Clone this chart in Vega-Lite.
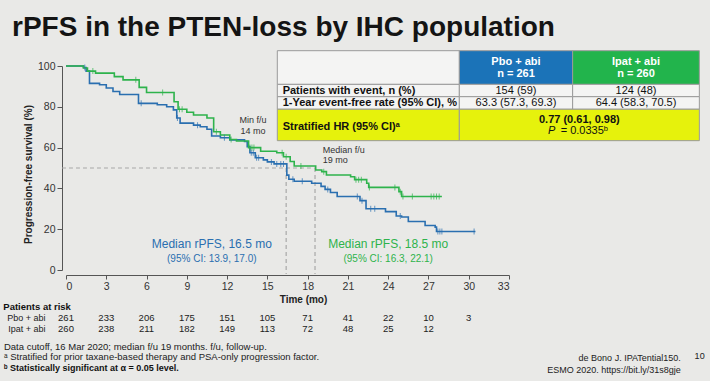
{
  "$schema": "https://vega.github.io/schema/vega-lite/v6.json",
  "width": 443,
  "height": 204,
  "autosize": {"type": "none"},
  "padding": {"left": 66, "top": 66, "right": 201, "bottom": 111},
  "background": "#e9e9e7",
  "title": {
    "text": "rPFS in the PTEN-loss by IHC population",
    "anchor": "start",
    "frame": "group",
    "font": "Liberation Sans, Arial, sans-serif",
    "fontSize": 28,
    "fontWeight": "bold",
    "color": "#141414",
    "dx": -54,
    "offset": 8
  },
  "config": {
    "view": {"stroke": null},
    "font": "Liberation Sans, Arial, sans-serif",
    "text": {"font": "Liberation Sans, Arial, sans-serif"}
  },
  "encoding": {
    "x": {
      "field": "t",
      "type": "quantitative",
      "scale": {"domain": [0, 33], "nice": false, "zero": false},
      "axis": {
        "title": "Time (mo)",
        "values": [0, 3, 6, 9, 12, 15, 18, 21, 24, 27, 30, 33],
        "offset": 5,
        "grid": false,
        "tickSize": 4,
        "labelPadding": 2,
        "labelFontSize": 10.5,
        "labelColor": "#333",
        "labelFont": "Liberation Sans, Arial, sans-serif",
        "domainColor": "#555",
        "tickColor": "#555",
        "titleFont": "Liberation Sans, Arial, sans-serif",
        "titleFontSize": 10,
        "titleFontWeight": "bold",
        "titleColor": "#222",
        "titleX": 237,
        "titlePadding": 3
      }
    },
    "y": {
      "field": "p",
      "type": "quantitative",
      "scale": {"domain": [0, 100], "nice": false, "zero": false},
      "axis": {
        "title": "Progression-free survival (%)",
        "values": [0, 20, 40, 60, 80, 100],
        "offset": 4,
        "grid": false,
        "tickSize": 5,
        "labelPadding": 2,
        "labelFontSize": 10.5,
        "labelColor": "#333",
        "labelFont": "Liberation Sans, Arial, sans-serif",
        "domainColor": "#555",
        "tickColor": "#555",
        "titleFont": "Liberation Sans, Arial, sans-serif",
        "titleFontSize": 10,
        "titleFontWeight": "bold",
        "titleColor": "#222",
        "titleY": 108
      }
    }
  },
  "layer": [
    {
      "data": {"values": [
        {"t": 15.74, "t2": 29.30, "p": 107.5, "p2": 91.0, "cell": "blank"},
        {"t": 29.30, "t2": 37.74, "p": 107.5, "p2": 91.0, "cell": "blue"},
        {"t": 37.74, "t2": 47.18, "p": 107.5, "p2": 91.0, "cell": "green"},
        {"t": 15.74, "t2": 29.30, "p": 91.0, "p2": 84.95, "cell": "blank"},
        {"t": 29.30, "t2": 37.74, "p": 91.0, "p2": 84.95, "cell": "blank"},
        {"t": 37.74, "t2": 47.18, "p": 91.0, "p2": 84.95, "cell": "blank"},
        {"t": 15.74, "t2": 29.30, "p": 84.95, "p2": 78.8, "cell": "blank"},
        {"t": 29.30, "t2": 37.74, "p": 84.95, "p2": 78.8, "cell": "blank"},
        {"t": 37.74, "t2": 47.18, "p": 84.95, "p2": 78.8, "cell": "blank"},
        {"t": 15.74, "t2": 29.30, "p": 78.8, "p2": 63.4, "cell": "yellow"},
        {"t": 29.30, "t2": 47.18, "p": 78.8, "p2": 63.4, "cell": "yellow"}
      ]},
      "mark": {"type": "rect", "stroke": "#9a9a9a", "strokeWidth": 1},
      "encoding": {
        "x2": {"field": "t2"},
        "y2": {"field": "p2"},
        "fill": {
          "field": "cell",
          "type": "nominal",
          "scale": {"domain": ["blank", "blue", "green", "yellow"], "range": ["#f4f4f3", "#1b73b8", "#22b44c", "#e6f20c"]},
          "legend": null
        }
      }
    },
    {
      "data": {"values": [
        {"label": "Pbo + abi", "t": 33.52, "p": 102.1},
        {"label": "n = 261", "t": 33.52, "p": 95.9},
        {"label": "Ipat + abi", "t": 42.46, "p": 102.1},
        {"label": "n = 260", "t": 42.46, "p": 95.9}
      ]},
      "mark": {"type": "text", "fontSize": 11, "fontWeight": "bold", "color": "#ffffff", "align": "center"},
      "encoding": {"text": {"field": "label"}}
    },
    {
      "data": {"values": [
        {"label": "Patients with event, n (%)", "t": 16.14, "p": 87.9},
        {"label": "1-Year event-free rate (95% CI), %", "t": 16.14, "p": 81.7},
        {"label": "Stratified HR (95% CI)ᵃ", "t": 16.14, "p": 70.2}
      ]},
      "mark": {"type": "text", "fontSize": 11, "fontWeight": "bold", "color": "#111", "align": "left"},
      "encoding": {"text": {"field": "label"}}
    },
    {
      "data": {"values": [
        {"label": "154 (59)", "t": 33.52, "p": 87.9},
        {"label": "124 (48)", "t": 42.46, "p": 87.9},
        {"label": "63.3 (57.3, 69.3)", "t": 33.52, "p": 81.7},
        {"label": "64.4 (58.3, 70.5)", "t": 42.46, "p": 81.7}
      ]},
      "mark": {"type": "text", "fontSize": 11, "color": "#111", "align": "center"},
      "encoding": {"text": {"field": "label"}}
    },
    {
      "data": {"values": [{"label": "0.77 (0.61, 0.98)", "t": 38.24, "p": 73.5}]},
      "mark": {"type": "text", "fontSize": 11, "fontWeight": "bold", "color": "#111", "align": "center"},
      "encoding": {"text": {"field": "label"}}
    },
    {
      "data": {"values": [{"label": "P", "t": 36.45, "p": 68.3}]},
      "mark": {"type": "text", "fontSize": 11, "fontStyle": "italic", "color": "#111", "align": "right"},
      "encoding": {"text": {"field": "label"}}
    },
    {
      "data": {"values": [{"label": "= 0.0335ᵇ", "t": 36.85, "p": 68.3}]},
      "mark": {"type": "text", "fontSize": 11, "color": "#111", "align": "left"},
      "encoding": {"text": {"field": "label"}}
    },
    {
      "data": {"values": [
        {"t": -0.3, "t2": 18.55, "p": 50, "p2": 50},
        {"t": 16.4, "t2": 16.4, "p": 50, "p2": -2},
        {"t": 18.55, "t2": 18.55, "p": 50, "p2": -2}
      ]},
      "mark": {"type": "rule", "color": "#a8a8a8", "strokeWidth": 1.2, "strokeDash": [4, 3]},
      "encoding": {"x2": {"field": "t2"}, "y2": {"field": "p2"}}
    },
    {
      "data": {"values": [
        {"arm": "Pbo + abi", "t": 0, "p": 100},
        {"arm": "Pbo + abi", "t": 1.3, "p": 99.3},
        {"arm": "Pbo + abi", "t": 1.5, "p": 97.5},
        {"arm": "Pbo + abi", "t": 1.75, "p": 91.5},
        {"arm": "Pbo + abi", "t": 2.5, "p": 90.8},
        {"arm": "Pbo + abi", "t": 3.0, "p": 89.2},
        {"arm": "Pbo + abi", "t": 3.5, "p": 87.5},
        {"arm": "Pbo + abi", "t": 4.0, "p": 86},
        {"arm": "Pbo + abi", "t": 5.4, "p": 81.7},
        {"arm": "Pbo + abi", "t": 6.8, "p": 81},
        {"arm": "Pbo + abi", "t": 7.5, "p": 80},
        {"arm": "Pbo + abi", "t": 8.0, "p": 78.5},
        {"arm": "Pbo + abi", "t": 8.25, "p": 74.5},
        {"arm": "Pbo + abi", "t": 8.5, "p": 72},
        {"arm": "Pbo + abi", "t": 9.5, "p": 71},
        {"arm": "Pbo + abi", "t": 10.0, "p": 70.2},
        {"arm": "Pbo + abi", "t": 10.5, "p": 69},
        {"arm": "Pbo + abi", "t": 10.85, "p": 65.7},
        {"arm": "Pbo + abi", "t": 11.5, "p": 64.8},
        {"arm": "Pbo + abi", "t": 12.2, "p": 63.8},
        {"arm": "Pbo + abi", "t": 13.3, "p": 63},
        {"arm": "Pbo + abi", "t": 13.5, "p": 60.5},
        {"arm": "Pbo + abi", "t": 13.7, "p": 57.5},
        {"arm": "Pbo + abi", "t": 14.1, "p": 55},
        {"arm": "Pbo + abi", "t": 14.7, "p": 54},
        {"arm": "Pbo + abi", "t": 15.0, "p": 53},
        {"arm": "Pbo + abi", "t": 15.5, "p": 52},
        {"arm": "Pbo + abi", "t": 16.45, "p": 46.5},
        {"arm": "Pbo + abi", "t": 16.6, "p": 44.5},
        {"arm": "Pbo + abi", "t": 17.0, "p": 43.5},
        {"arm": "Pbo + abi", "t": 18.3, "p": 42.5},
        {"arm": "Pbo + abi", "t": 19.0, "p": 41},
        {"arm": "Pbo + abi", "t": 19.3, "p": 39.5},
        {"arm": "Pbo + abi", "t": 19.7, "p": 38},
        {"arm": "Pbo + abi", "t": 20.2, "p": 36},
        {"arm": "Pbo + abi", "t": 21.9, "p": 34},
        {"arm": "Pbo + abi", "t": 22.35, "p": 30},
        {"arm": "Pbo + abi", "t": 23.8, "p": 28.6},
        {"arm": "Pbo + abi", "t": 24.6, "p": 26.5},
        {"arm": "Pbo + abi", "t": 25.0, "p": 26},
        {"arm": "Pbo + abi", "t": 25.5, "p": 23.8},
        {"arm": "Pbo + abi", "t": 26.75, "p": 21.8},
        {"arm": "Pbo + abi", "t": 27.5, "p": 21},
        {"arm": "Pbo + abi", "t": 27.6, "p": 18.9},
        {"arm": "Pbo + abi", "t": 30.5, "p": 18.9},
        {"arm": "Ipat + abi", "t": 0, "p": 100},
        {"arm": "Ipat + abi", "t": 1.3, "p": 99},
        {"arm": "Ipat + abi", "t": 1.6, "p": 97.5},
        {"arm": "Ipat + abi", "t": 2.2, "p": 96.5},
        {"arm": "Ipat + abi", "t": 3.6, "p": 94.8},
        {"arm": "Ipat + abi", "t": 4.25, "p": 93.2},
        {"arm": "Ipat + abi", "t": 5.45, "p": 89.5},
        {"arm": "Ipat + abi", "t": 6.0, "p": 87},
        {"arm": "Ipat + abi", "t": 8.05, "p": 82.5},
        {"arm": "Ipat + abi", "t": 8.35, "p": 78.8},
        {"arm": "Ipat + abi", "t": 9.0, "p": 77.3},
        {"arm": "Ipat + abi", "t": 9.5, "p": 76},
        {"arm": "Ipat + abi", "t": 10.5, "p": 74.5},
        {"arm": "Ipat + abi", "t": 11.0, "p": 67.8},
        {"arm": "Ipat + abi", "t": 11.5, "p": 66.2},
        {"arm": "Ipat + abi", "t": 12.2, "p": 64},
        {"arm": "Ipat + abi", "t": 12.7, "p": 63.2},
        {"arm": "Ipat + abi", "t": 13.6, "p": 60},
        {"arm": "Ipat + abi", "t": 14.5, "p": 58.2},
        {"arm": "Ipat + abi", "t": 15.7, "p": 57.5},
        {"arm": "Ipat + abi", "t": 16.2, "p": 55.5},
        {"arm": "Ipat + abi", "t": 16.7, "p": 53.2},
        {"arm": "Ipat + abi", "t": 17.0, "p": 51},
        {"arm": "Ipat + abi", "t": 18.6, "p": 49},
        {"arm": "Ipat + abi", "t": 19.05, "p": 48.2},
        {"arm": "Ipat + abi", "t": 19.4, "p": 46.6},
        {"arm": "Ipat + abi", "t": 21.2, "p": 45.7},
        {"arm": "Ipat + abi", "t": 21.5, "p": 44.3},
        {"arm": "Ipat + abi", "t": 22.4, "p": 42.5},
        {"arm": "Ipat + abi", "t": 22.55, "p": 40.5},
        {"arm": "Ipat + abi", "t": 24.8, "p": 38.4},
        {"arm": "Ipat + abi", "t": 25.0, "p": 36},
        {"arm": "Ipat + abi", "t": 28.0, "p": 36}
      ]},
      "mark": {"type": "line", "interpolate": "step-after", "strokeWidth": 1.6},
      "encoding": {
        "color": {
          "field": "arm",
          "type": "nominal",
          "scale": {"domain": ["Pbo + abi", "Ipat + abi"], "range": ["#2a6fb0", "#2eb34c"]},
          "legend": null
        }
      }
    },
    {
      "data": {"values": [
        {"arm": "Pbo + abi", "t": 1.4, "p": 99.3},
        {"arm": "Pbo + abi", "t": 5.6, "p": 81.7},
        {"arm": "Pbo + abi", "t": 8.3, "p": 74.5},
        {"arm": "Pbo + abi", "t": 9.8, "p": 71},
        {"arm": "Pbo + abi", "t": 11.8, "p": 64.8},
        {"arm": "Pbo + abi", "t": 13.8, "p": 57.5},
        {"arm": "Pbo + abi", "t": 13.95, "p": 57.5},
        {"arm": "Pbo + abi", "t": 14.2, "p": 55},
        {"arm": "Pbo + abi", "t": 14.35, "p": 55},
        {"arm": "Pbo + abi", "t": 15.3, "p": 53},
        {"arm": "Pbo + abi", "t": 15.7, "p": 52},
        {"arm": "Pbo + abi", "t": 16.0, "p": 52},
        {"arm": "Pbo + abi", "t": 16.2, "p": 52},
        {"arm": "Pbo + abi", "t": 16.9, "p": 44.5},
        {"arm": "Pbo + abi", "t": 17.6, "p": 43.5},
        {"arm": "Pbo + abi", "t": 19.5, "p": 39.5},
        {"arm": "Pbo + abi", "t": 21.7, "p": 36},
        {"arm": "Pbo + abi", "t": 22.05, "p": 34},
        {"arm": "Pbo + abi", "t": 22.7, "p": 30},
        {"arm": "Pbo + abi", "t": 23.0, "p": 30},
        {"arm": "Pbo + abi", "t": 24.9, "p": 26.5},
        {"arm": "Pbo + abi", "t": 27.7, "p": 18.9},
        {"arm": "Pbo + abi", "t": 27.85, "p": 18.9},
        {"arm": "Pbo + abi", "t": 28.0, "p": 18.9},
        {"arm": "Pbo + abi", "t": 30.4, "p": 18.9},
        {"arm": "Ipat + abi", "t": 2.0, "p": 97.5},
        {"arm": "Ipat + abi", "t": 5.2, "p": 93.2},
        {"arm": "Ipat + abi", "t": 7.2, "p": 87},
        {"arm": "Ipat + abi", "t": 8.45, "p": 78.8},
        {"arm": "Ipat + abi", "t": 8.65, "p": 78.8},
        {"arm": "Ipat + abi", "t": 11.2, "p": 67.8},
        {"arm": "Ipat + abi", "t": 12.3, "p": 64},
        {"arm": "Ipat + abi", "t": 13.7, "p": 60},
        {"arm": "Ipat + abi", "t": 13.85, "p": 60},
        {"arm": "Ipat + abi", "t": 14.0, "p": 60},
        {"arm": "Ipat + abi", "t": 16.1, "p": 57.5},
        {"arm": "Ipat + abi", "t": 16.4, "p": 55.5},
        {"arm": "Ipat + abi", "t": 17.5, "p": 51},
        {"arm": "Ipat + abi", "t": 19.2, "p": 48.2},
        {"arm": "Ipat + abi", "t": 21.6, "p": 44.3},
        {"arm": "Ipat + abi", "t": 21.8, "p": 44.3},
        {"arm": "Ipat + abi", "t": 22.0, "p": 44.3},
        {"arm": "Ipat + abi", "t": 22.6, "p": 40.5},
        {"arm": "Ipat + abi", "t": 24.5, "p": 40.5},
        {"arm": "Ipat + abi", "t": 24.9, "p": 38.4},
        {"arm": "Ipat + abi", "t": 25.1, "p": 36},
        {"arm": "Ipat + abi", "t": 25.8, "p": 36},
        {"arm": "Ipat + abi", "t": 27.2, "p": 36},
        {"arm": "Ipat + abi", "t": 27.4, "p": 36},
        {"arm": "Ipat + abi", "t": 27.6, "p": 36},
        {"arm": "Ipat + abi", "t": 27.8, "p": 36}
      ]},
      "mark": {"type": "tick", "orient": "vertical", "size": 6, "thickness": 1},
      "encoding": {
        "color": {"field": "arm", "type": "nominal", "legend": null}
      }
    },
    {
      "data": {"values": [
        {"arm": "Pbo + abi", "label": "Median rPFS, 16.5 mo", "t": 10.86, "p": 12.6},
        {"arm": "Ipat + abi", "label": "Median rPFS, 18.5 mo", "t": 24.0, "p": 12.6}
      ]},
      "mark": {"type": "text", "fontSize": 12, "align": "center"},
      "encoding": {
        "text": {"field": "label"},
        "color": {"field": "arm", "type": "nominal", "legend": null}
      }
    },
    {
      "data": {"values": [
        {"arm": "Pbo + abi", "label": "(95% CI: 13.9, 17.0)", "t": 10.86, "p": 5.5},
        {"arm": "Ipat + abi", "label": "(95% CI: 16.3, 22.1)", "t": 24.0, "p": 5.5}
      ]},
      "mark": {"type": "text", "fontSize": 10, "align": "center"},
      "encoding": {
        "text": {"field": "label"},
        "color": {"field": "arm", "type": "nominal", "legend": null}
      }
    },
    {
      "data": {"values": [
        {"label": "Min f/u", "t": 13.93, "p": 73.5},
        {"label": "14 mo", "t": 13.93, "p": 68.1}
      ]},
      "mark": {"type": "text", "fontSize": 9, "color": "#333", "align": "center"},
      "encoding": {"text": {"field": "label"}}
    },
    {
      "data": {"values": [
        {"label": "Median f/u", "t": 19.13, "p": 58.8},
        {"label": "19 mo", "t": 19.13, "p": 53.9}
      ]},
      "mark": {"type": "text", "fontSize": 9, "color": "#333", "align": "left"},
      "encoding": {"text": {"field": "label"}}
    },
    {
      "data": {"values": [{"label": "Patients at risk", "t": -4.67, "p": -18.1}]},
      "mark": {"type": "text", "fontSize": 9.5, "fontWeight": "bold", "color": "#111", "align": "left"},
      "encoding": {"text": {"field": "label"}}
    },
    {
      "data": {"values": [
        {"label": "Pbo + abi", "t": -4.37, "p": -23.5},
        {"label": "Ipat + abi", "t": -4.3, "p": -28.9}
      ]},
      "mark": {"type": "text", "fontSize": 9, "color": "#222", "align": "left"},
      "encoding": {"text": {"field": "label"}}
    },
    {
      "data": {"values": [
        {"arm": "Pbo + abi", "t": 0, "n": 261, "p": -23.5},
        {"arm": "Pbo + abi", "t": 3, "n": 233, "p": -23.5},
        {"arm": "Pbo + abi", "t": 6, "n": 206, "p": -23.5},
        {"arm": "Pbo + abi", "t": 9, "n": 175, "p": -23.5},
        {"arm": "Pbo + abi", "t": 12, "n": 151, "p": -23.5},
        {"arm": "Pbo + abi", "t": 15, "n": 105, "p": -23.5},
        {"arm": "Pbo + abi", "t": 18, "n": 71, "p": -23.5},
        {"arm": "Pbo + abi", "t": 21, "n": 41, "p": -23.5},
        {"arm": "Pbo + abi", "t": 24, "n": 22, "p": -23.5},
        {"arm": "Pbo + abi", "t": 27, "n": 10, "p": -23.5},
        {"arm": "Pbo + abi", "t": 30, "n": 3, "p": -23.5},
        {"arm": "Ipat + abi", "t": 0, "n": 260, "p": -28.9},
        {"arm": "Ipat + abi", "t": 3, "n": 238, "p": -28.9},
        {"arm": "Ipat + abi", "t": 6, "n": 211, "p": -28.9},
        {"arm": "Ipat + abi", "t": 9, "n": 182, "p": -28.9},
        {"arm": "Ipat + abi", "t": 12, "n": 149, "p": -28.9},
        {"arm": "Ipat + abi", "t": 15, "n": 113, "p": -28.9},
        {"arm": "Ipat + abi", "t": 18, "n": 72, "p": -28.9},
        {"arm": "Ipat + abi", "t": 21, "n": 48, "p": -28.9},
        {"arm": "Ipat + abi", "t": 24, "n": 25, "p": -28.9},
        {"arm": "Ipat + abi", "t": 27, "n": 12, "p": -28.9}
      ]},
      "mark": {"type": "text", "fontSize": 9.5, "color": "#222", "align": "center"},
      "encoding": {"text": {"field": "n", "type": "quantitative"}}
    },
    {
      "data": {"values": [
        {"label": "Data cutoff, 16 Mar 2020; median f/u 19 months. f/u, follow-up.", "t": -4.62, "p": -37.6},
        {"label": "ᵃ Stratified for prior taxane-based therapy and PSA-only progression factor.", "t": -4.62, "p": -42.6}
      ]},
      "mark": {"type": "text", "fontSize": 9.5, "color": "#222", "align": "left"},
      "encoding": {"text": {"field": "label"}}
    },
    {
      "data": {"values": [
        {"label": "ᵇ Statistically significant at α = 0.05 level.", "t": -4.62, "p": -48.0}
      ]},
      "mark": {"type": "text", "fontSize": 9, "fontWeight": "bold", "color": "#111", "align": "left"},
      "encoding": {"text": {"field": "label"}}
    },
    {
      "data": {"values": [
        {"label": "de Bono J. IPATential150.", "t": 45.8, "p": -43.1},
        {"label": "ESMO 2020. https://bit.ly/31s8gje", "t": 45.8, "p": -48.8}
      ]},
      "mark": {"type": "text", "fontSize": 9, "color": "#222", "align": "right"},
      "encoding": {"text": {"field": "label"}}
    },
    {
      "data": {"values": [{"label": "10", "t": 47.2, "p": -42.2}]},
      "mark": {"type": "text", "fontSize": 9, "color": "#222", "align": "center"},
      "encoding": {"text": {"field": "label"}}
    }
  ]
}
